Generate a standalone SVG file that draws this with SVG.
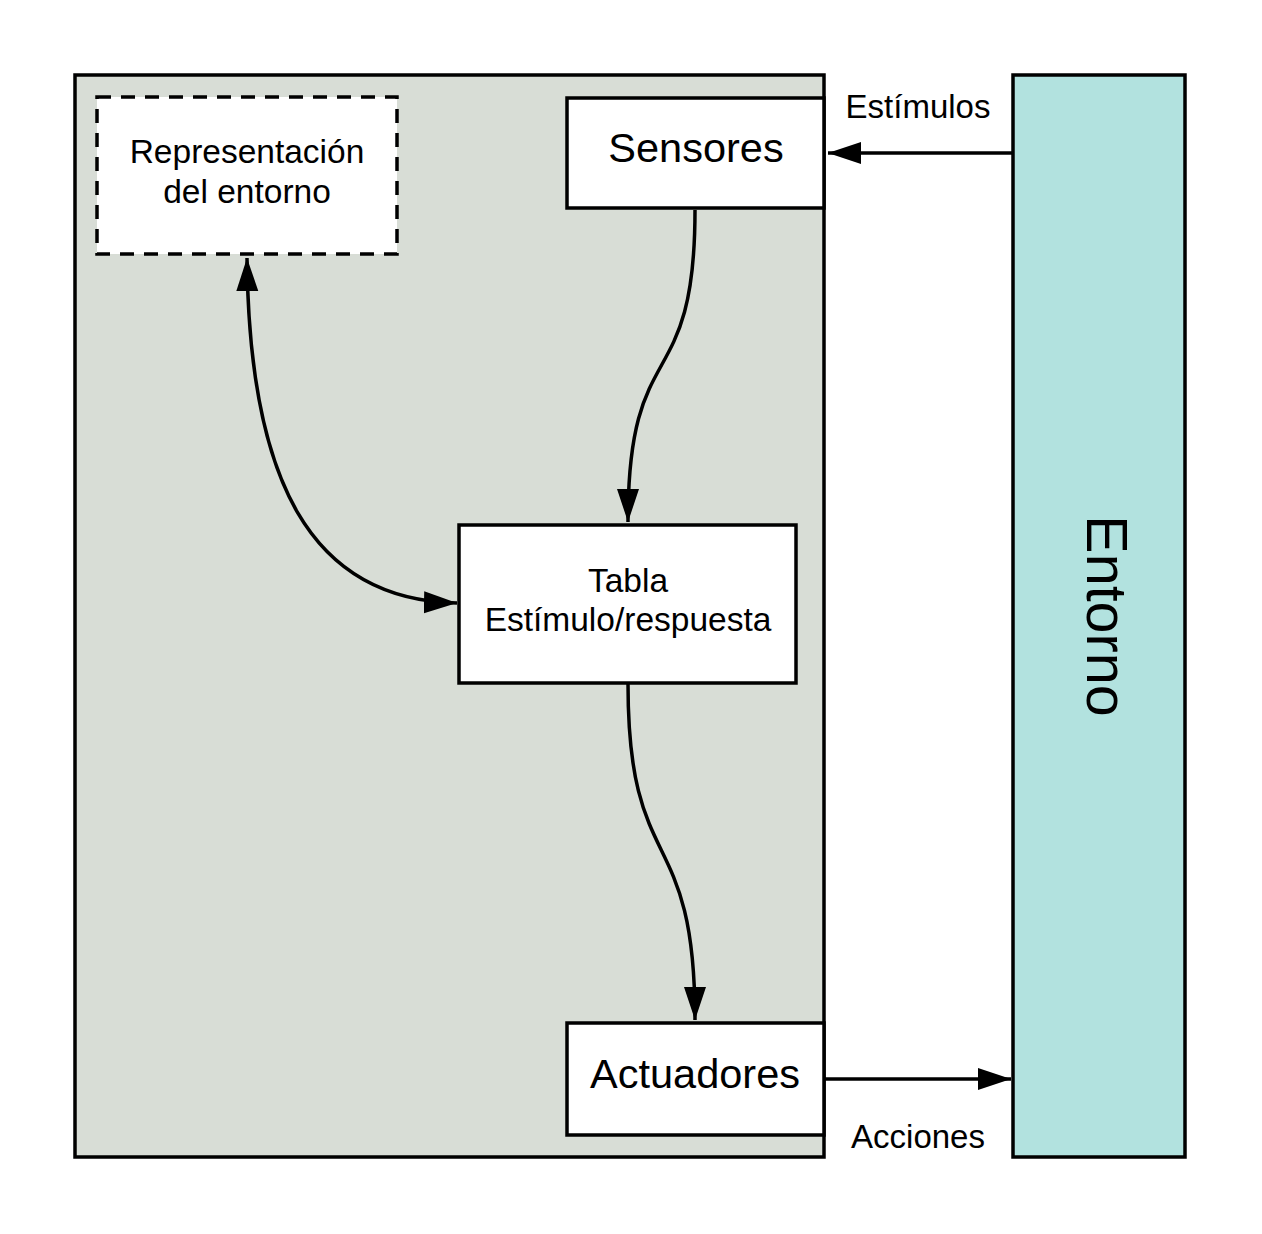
<svg xmlns="http://www.w3.org/2000/svg" width="1262" height="1234" viewBox="0 0 1262 1234">
<style>
text{font-family:"Liberation Sans",Arial,sans-serif;fill:#000;text-anchor:middle}
.box{fill:#fff;stroke:#000;stroke-width:3.5}
.conn{fill:none;stroke:#000;stroke-width:3.5}
</style>
<defs>
<marker id="ah" markerUnits="userSpaceOnUse" markerWidth="34" markerHeight="24" refX="33" refY="11" orient="auto-start-reverse" viewBox="0 0 34 24">
<path d="M0,0 L33,11 L0,22 z" fill="#000"/>
</marker>
</defs>
<rect width="1262" height="1234" fill="#fff"/>
<g id="agente">
<rect x="75" y="75" width="749" height="1082" fill="#d8ddd6" stroke="#000" stroke-width="3.5"/>
</g>
<g id="entorno">
<rect x="1013" y="75" width="172" height="1082" fill="#b2e2df" stroke="#000" stroke-width="3.5"/>
<text transform="translate(1087,616) rotate(90)" font-size="57.5">Entorno</text>
</g>
<g id="representacion">
<rect x="97" y="97" width="300" height="157" fill="#fff" stroke="#000" stroke-width="3.5" stroke-dasharray="14 10"/>
<text x="247" y="163" font-size="33.5">Representación</text>
<text x="247" y="203" font-size="33.5">del entorno</text>
</g>
<g id="sensores">
<rect class="box" x="567" y="98" width="257" height="110"/>
<text x="696" y="162" font-size="41.5">Sensores</text>
</g>
<g id="tabla">
<rect class="box" x="459" y="525" width="337" height="158"/>
<text x="628" y="592" font-size="33.5">Tabla</text>
<text x="628" y="631" font-size="33.5">Estímulo/respuesta</text>
</g>
<g id="actuadores">
<rect class="box" x="567" y="1023" width="257" height="112"/>
<text x="695" y="1088" font-size="41.5">Actuadores</text>
</g>
<g id="connectors">
<path class="conn" d="M1013,153 L828,153" marker-end="url(#ah)"/>
<text x="918" y="118" font-size="33">Estímulos</text>
<path class="conn" d="M825,1079 L1011,1079" marker-end="url(#ah)"/>
<text x="918" y="1148" font-size="33">Acciones</text>
<path class="conn" d="M695,210 C695,400 628,330 628,522" marker-end="url(#ah)"/>
<path class="conn" d="M628,684 C628,880 695,820 695,1020" marker-end="url(#ah)"/>
<path class="conn" d="M247,258 C249,480 310,600 457,603" marker-start="url(#ah)" marker-end="url(#ah)"/>
</g>
</svg>
